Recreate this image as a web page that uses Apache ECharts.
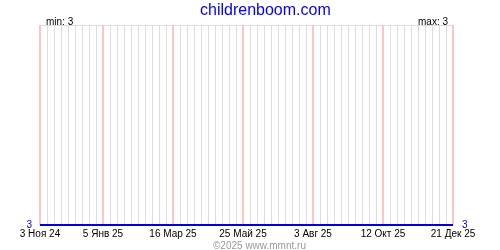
<!DOCTYPE html>
<html><head><meta charset="utf-8">
<script src="https://cdn.jsdelivr.net/npm/echarts@6/dist/echarts.min.js"></script>
<style>html,body{margin:0;padding:0;background:#fff}#c{width:500px;height:250px}</style>
</head><body><div id="c"></div>
<script>
// weekly sample dates (start of each week) from 3 Nov 2024 to 21 Dec 2025
const startDate = '2024-11-03';
const weekCount = 60;
const tickLabels = ['3 Ноя 24','5 Янв 25','16 Мар 25','25 Май 25','3 Авг 25','12 Окт 25','21 Дек 25'];
const tickIndex = [0, 9, 19, 29, 39, 49, 59];
const values = [3,3,3,3,3,3,3,3,3,3, 3,3,3,3,3,3,3,3,3,3, 3,3,3,3,3,3,3,3,3,3,
                3,3,3,3,3,3,3,3,3,3, 3,3,3,3,3,3,3,3,3,3, 3,3,3,3,3,3,3,3,3,3];
const minValue = 3, maxValue = 3;
const titleText = 'childrenboom.com';
const footerText = '©2025 www.mmnt.ru';

const categories = [];
const d0 = new Date(startDate + 'T00:00:00Z');
for (let i = 0; i < weekCount; i++) {
  const d = new Date(d0.getTime() + i * 7 * 86400000);
  categories.push(d.toISOString().slice(0, 10));
}
const isTick = (i) => tickIndex.indexOf(i) >= 0;

const font = '"Liberation Sans", Arial, sans-serif';
const chart = echarts.init(document.getElementById('c'), null, {renderer: 'canvas'});
chart.setOption({
  animation: false,
  grid: {left: 40, right: 47, top: 25, bottom: 25},
  title: [
    {text: titleText, left: 195, top: -2, textStyle: {color: '#0000ff', fontSize: 16, fontWeight: 'normal', fontFamily: font}},
    {text: 'min: ' + minValue, left: 41, top: 12, textStyle: {color: '#000', fontSize: 10, fontWeight: 'normal', fontFamily: font}},
    {text: 'max: ' + maxValue, right: 47, top: 12, textStyle: {color: '#000', fontSize: 10, fontWeight: 'normal', fontFamily: font}},
    {text: footerText, left: 208, top: 236, textStyle: {color: '#999', fontSize: 10, fontWeight: 'normal', fontFamily: font}}
  ],
  xAxis: [
    {type: 'category', data: categories, boundaryGap: false,
     axisLine: {show: false}, axisTick: {show: false},
     axisLabel: {interval: (i) => isTick(i), color: '#000', fontSize: 10, fontFamily: font, margin: 4,
       formatter: (v, i) => { const k = tickIndex.indexOf(i); return k >= 0 ? tickLabels[k] : ''; }},
     splitLine: {show: true, interval: 0, lineStyle: {color: '#dddddd', width: 1}}}
  ],
  yAxis: [
    {type: 'value', min: 3, max: 4, interval: 1, position: 'left',
     axisLine: {show: false}, axisTick: {show: false},
     axisLabel: {color: '#0000dd', fontSize: 10, fontFamily: font, margin: 8, formatter: (v) => v === 3 ? '3' : ''},
     splitLine: {show: true, lineStyle: {color: '#dddddd', width: 1}}},
    {type: 'value', min: 3, max: 4, interval: 1, position: 'right',
     axisLine: {show: false}, axisTick: {show: false},
     axisLabel: {color: '#0000dd', fontSize: 10, fontFamily: font, margin: 9, formatter: (v) => v === 3 ? '3' : ''},
     splitLine: {show: false}}
  ],
  series: [{
    type: 'line', data: values, xAxisIndex: 0, yAxisIndex: 0, clip: false,
    showSymbol: false, lineStyle: {color: '#0000dd', width: 2}, z: 5,
    markLine: {
      silent: true, animation: false, symbol: ['none', 'none'], label: {show: false},
      lineStyle: {color: '#ffc4c4', width: 2, type: 'solid'},
      data: tickIndex.map((i) => [{xAxis: i, yAxis: 3}, {xAxis: i, yAxis: 4}])
    }
  }]
});
</script></body></html>
